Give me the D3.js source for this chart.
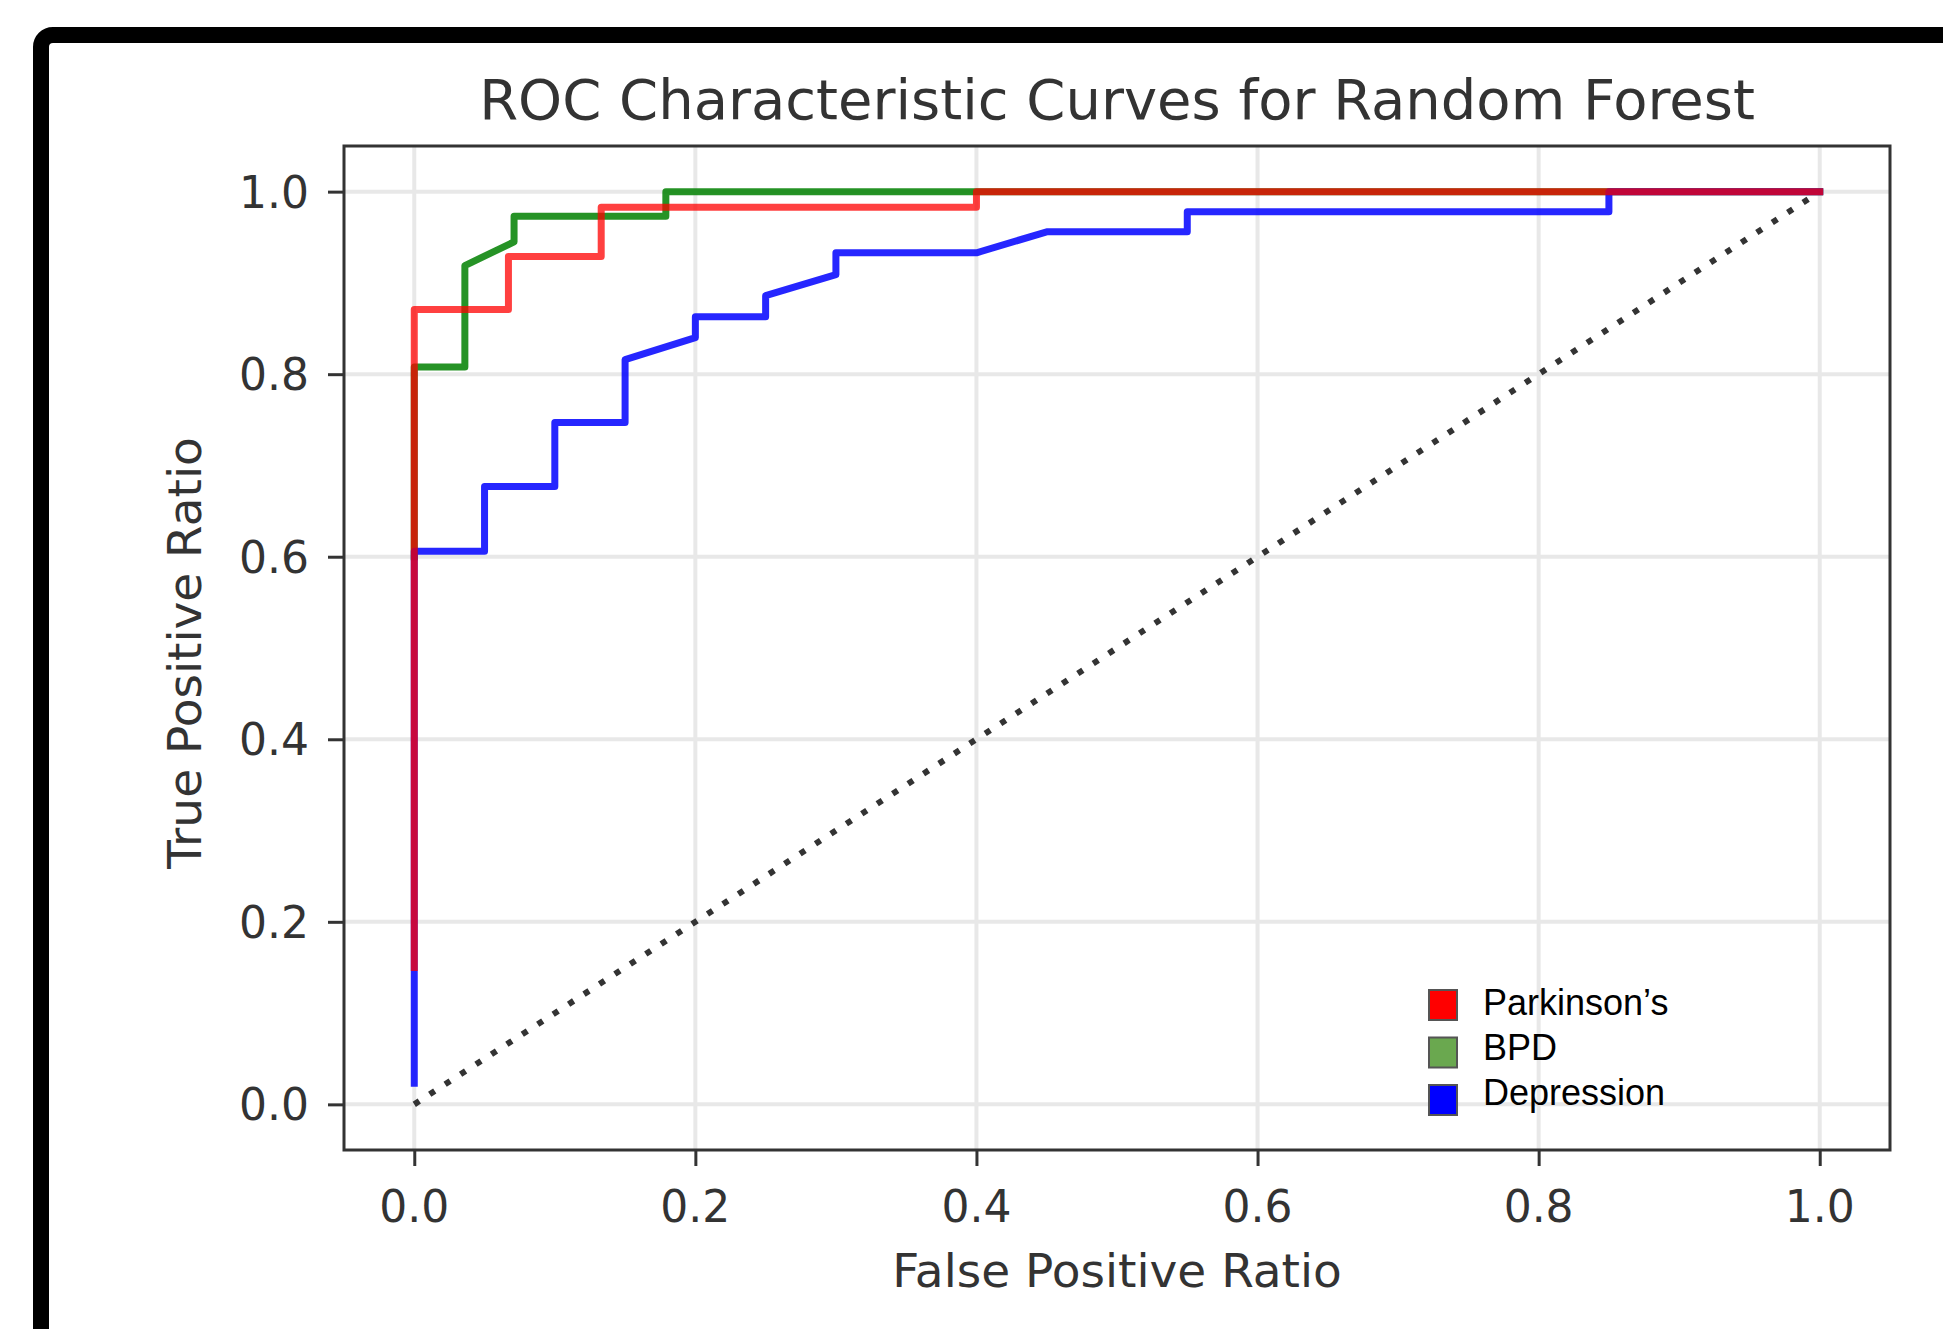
<!DOCTYPE html>
<html>
<head>
<meta charset="utf-8">
<style>
  body { margin: 0; background: #fff; }
  #chart-area svg { display: block; }
  .tick-label, .axis-label, .title { font-family: "DejaVu Sans", sans-serif; fill: #333; }
  .legend-text { font-family: "Liberation Sans", Arial, sans-serif; fill: #000; }
</style>
</head>
<body>
<div id="chart-area"></div>

<script src="https://cdn.jsdelivr.net/npm/d3@7"></script>
<script>

    // ROC points (fpr / tpr)
    var parkinsonsFpr = [0, 0, 0.067, 0.067, 0.133, 0.133, 0.4, 0.4, 1.0];
    var parkinsonsTpr = [0.15, 0.871, 0.871, 0.929, 0.929, 0.983, 0.983, 1.0, 1.0];

    var bpdFpr = [0, 0, 0.036, 0.036, 0.071, 0.071, 0.179, 0.179, 1.0];
    var bpdTpr = [0.6, 0.808, 0.808, 0.919, 0.945, 0.973, 0.973, 1.0, 1.0];

    var depressionFpr = [0, 0, 0.05, 0.05, 0.10, 0.10, 0.15, 0.15, 0.20, 0.20, 0.25, 0.25, 0.30, 0.30, 0.40, 0.45, 0.55, 0.55, 0.85, 0.85, 1.0];
    var depressionTpr = [0.023, 0.606, 0.606, 0.677, 0.677, 0.747, 0.747, 0.816, 0.84, 0.863, 0.863, 0.886, 0.909, 0.933, 0.933, 0.956, 0.956, 0.978, 0.978, 1.0, 1.0];

    var chanceLine = [0, 1];

    var tickValues = [0.0, 0.2, 0.4, 0.6, 0.8, 1.0];

    var legendLabels = ["Parkinson\u2019s", "BPD", "Depression"];
    var legendColors = ["#ff0000", "#6aa84f", "#0000ff"];

    const width = 1943;
    const height = 1329;
    const plot = {left: 344, right: 1890, top: 146, bottom: 1150};

    const svg = d3.select("#chart-area")
        .append("svg")
            .attr("width", width)
            .attr("height", height);

    svg.append("rect")
        .attr("width", width).attr("height", height)
        .attr("fill", "#fff");

    // thick black frame round the picture (runs off right and bottom)
    svg.append("rect")
        .attr("x", 41).attr("y", 35)
        .attr("width", 2100).attr("height", 2100)
        .attr("rx", 12)
        .attr("fill", "none")
        .attr("stroke", "#000")
        .attr("stroke-width", 16);

    const x = d3.scaleLinear().domain([-0.05, 1.05]).range([plot.left, plot.right]);
    const y = d3.scaleLinear().domain([-0.05, 1.05]).range([plot.bottom, plot.top]);

    // grid
    svg.append("g").selectAll("line.vgrid")
        .data(tickValues).enter().append("line")
        .attr("x1", d => x(d)).attr("x2", d => x(d))
        .attr("y1", plot.top).attr("y2", plot.bottom)
        .attr("stroke", "#e8e8e8").attr("stroke-width", 4);
    svg.append("g").selectAll("line.hgrid")
        .data(tickValues).enter().append("line")
        .attr("y1", d => y(d)).attr("y2", d => y(d))
        .attr("x1", plot.left).attr("x2", plot.right)
        .attr("stroke", "#e8e8e8").attr("stroke-width", 4);

    // axes, ticks only (labels drawn below)
    const xAxis = d3.axisBottom(x).tickValues(tickValues).tickSize(16).tickFormat("");
    const yAxis = d3.axisLeft(y).tickValues(tickValues).tickSize(16).tickFormat("");
    svg.append("g")
        .attr("transform", `translate(0, ${plot.bottom})`)
        .call(xAxis)
        .call(g => g.select(".domain").remove())
        .call(g => g.selectAll("line").attr("stroke", "#333").attr("stroke-width", 3));
    svg.append("g")
        .attr("transform", `translate(${plot.left}, 0)`)
        .call(yAxis)
        .call(g => g.select(".domain").remove())
        .call(g => g.selectAll("line").attr("stroke", "#333").attr("stroke-width", 3));

    svg.append("g").selectAll("text")
        .data(tickValues).enter().append("text")
        .attr("class", "tick-label")
        .attr("x", d => x(d))
        .attr("y", 1222)
        .attr("text-anchor", "middle")
        .attr("font-size", 44)
        .text(d => d.toFixed(1));
    svg.append("g").selectAll("text")
        .data(tickValues).enter().append("text")
        .attr("class", "tick-label")
        .attr("x", 309)
        .attr("y", d => y(d) + 16)
        .attr("text-anchor", "end")
        .attr("font-size", 44)
        .text(d => d.toFixed(1));

    // diagonal chance line
    svg.append("line")
        .attr("x1", x(chanceLine[0])).attr("y1", y(chanceLine[0]))
        .attr("x2", x(chanceLine[1])).attr("y2", y(chanceLine[1]))
        .attr("stroke", "#333")
        .attr("stroke-width", 6)
        .attr("stroke-dasharray", "6,12.4");

    const line = d3.line()
        .x(d => x(d[0]))
        .y(d => y(d[1]));

    var series = [
        {fpr: bpdFpr, tpr: bpdTpr, color: "#008000", opacity: 0.85},
        {fpr: depressionFpr, tpr: depressionTpr, color: "#0000ff", opacity: 0.85},
        {fpr: parkinsonsFpr, tpr: parkinsonsTpr, color: "#ff0000", opacity: 0.75}
    ];

    svg.append("g").selectAll("path")
        .data(series).enter().append("path")
        .attr("d", s => line(d3.zip(s.fpr, s.tpr)))
        .attr("fill", "none")
        .attr("stroke", s => s.color)
        .attr("stroke-opacity", s => s.opacity)
        .attr("stroke-width", 7)
        .attr("stroke-linejoin", "round")
        .attr("stroke-linecap", "square");

    // plot frame
    svg.append("rect")
        .attr("x", plot.left).attr("y", plot.top)
        .attr("width", plot.right - plot.left)
        .attr("height", plot.bottom - plot.top)
        .attr("fill", "none")
        .attr("stroke", "#333")
        .attr("stroke-width", 3);

    svg.append("text")
        .attr("class", "title")
        .attr("x", (plot.left + plot.right) / 2)
        .attr("y", 119)
        .attr("text-anchor", "middle")
        .attr("font-size", 56)
        .text("ROC Characteristic Curves for Random Forest");

    svg.append("text")
        .attr("class", "axis-label")
        .attr("x", (plot.left + plot.right) / 2)
        .attr("y", 1287)
        .attr("text-anchor", "middle")
        .attr("font-size", 47)
        .text("False Positive Ratio");

    svg.append("text")
        .attr("class", "axis-label")
        .attr("transform", "translate(201, 653) rotate(-90)")
        .attr("text-anchor", "middle")
        .attr("font-size", 47)
        .text("True Positive Ratio");

    // legend (pasted-on boxes)
    const legend = svg.append("g").selectAll("g")
        .data(legendLabels).enter().append("g")
        .attr("transform", (d, i) => `translate(1429, ${990 + i * 47.5})`);
    legend.append("rect")
        .attr("width", 28).attr("height", 30)
        .attr("fill", (d, i) => legendColors[i])
        .attr("stroke", "#555")
        .attr("stroke-width", 2);
    legend.append("text")
        .attr("class", "legend-text")
        .attr("x", 54)
        .attr("y", (d, i) => [25, 22, 20][i])
        .attr("font-size", 36)
        .text(d => d);

</script>
</body>
</html>
